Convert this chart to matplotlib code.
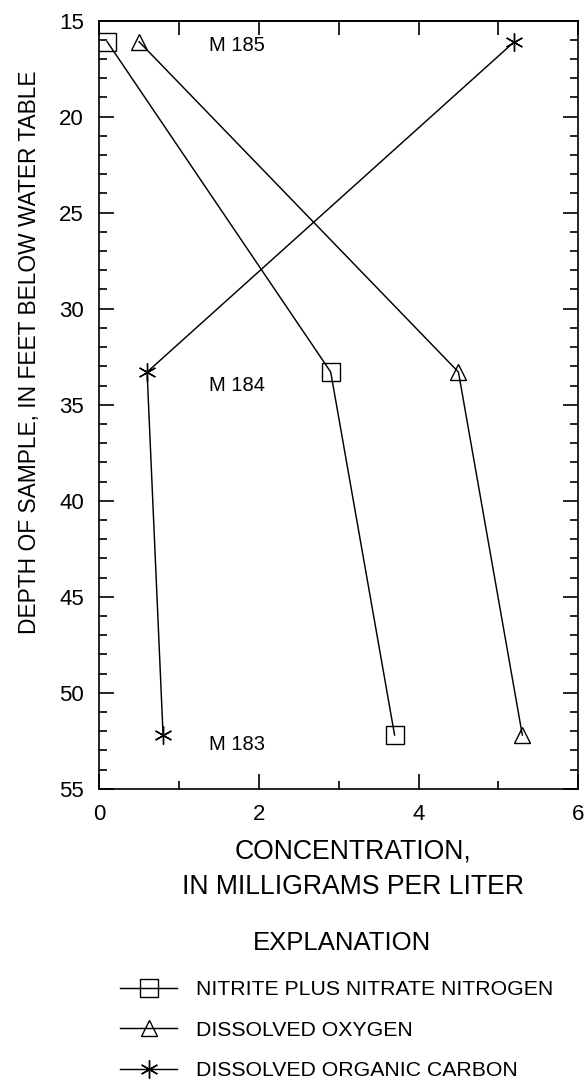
import matplotlib
matplotlib.use('Agg')
import matplotlib.pyplot as plt
from matplotlib.lines import Line2D

plt.rcParams.update({'font.family': ['Liberation Sans', 'DejaVu Sans'],
                     'font.size': 15, 'axes.linewidth': 1.2,
                     'xtick.direction': 'in', 'ytick.direction': 'in'})

# depths of the three wells (feet below water table)
depth = [16.1, 33.3, 52.2]
wells = ['M 185', 'M 184', 'M 183']
well_label_depth = [16.3, 34.0, 52.7]

nitrate = [0.1, 2.9, 3.7]
oxygen = [0.5, 4.5, 5.3]
carbon = [5.2, 0.6, 0.8]

series = [
    ('NITRITE PLUS NITRATE NITROGEN', nitrate, 's', 13),
    ('DISSOLVED OXYGEN', oxygen, '^', 12),
    ('DISSOLVED ORGANIC CARBON', carbon, (6, 2, 0), 13),
]

fig = plt.figure(figsize=(5.87, 10.85), dpi=100)
ax = fig.add_axes([0.169, 0.273, 0.816, 0.708])

handles = []
for name, vals, mk, ms in series:
    ax.plot(vals, depth, color='black', lw=1.05, marker=mk, ms=ms,
            mfc='none', mec='black', mew=1.0)
    handles.append(Line2D([], [], color='black', lw=1.05, marker=mk, ms=ms,
                          mfc='none', mec='black', mew=1.0, label=name))

for lab, d in zip(wells, well_label_depth):
    ax.text(1.37, d, lab, fontsize=14.5, va='center', ha='left')

ax.set_xlim(0, 6)
ax.set_ylim(55, 15)
ax.set_xticks([0, 2, 4, 6])
ax.set_xticks([1, 3, 5], minor=True)
ax.set_yticks(range(15, 56, 5))
ax.set_yticks(range(15, 56, 1), minor=True)
ax.tick_params(which='both', top=False, right=True, labelsize=16, width=1.2)
ax.tick_params(which='major', length=11, pad=11)
ax.tick_params(which='minor', length=6)

top = ax.secondary_xaxis('top')
top.set_xticks(range(0, 7))
top.tick_params(direction='in', length=10, width=1.2, labeltop=False)

fig.text(30 / 587, 1 - 352 / 1085, 'DEPTH OF SAMPLE, IN FEET BELOW WATER TABLE',
         rotation=90, ha='center', va='center', fontsize=16.4)
fig.text(353 / 587, 1 - 869 / 1085, 'CONCENTRATION,\nIN MILLIGRAMS PER LITER',
         ha='center', va='center', fontsize=19.2, linespacing=1.5)
fig.text(342 / 587, 1 - 943 / 1085, 'EXPLANATION', ha='center', va='center',
         fontsize=18.5)

fig.legend(handles=handles, loc='upper left',
           bbox_to_anchor=(120 / 587, 1 - 980 / 1085), frameon=False,
           fontsize=15.3, handlelength=2.7, handletextpad=0.9,
           labelspacing=1.02, borderaxespad=0, borderpad=0)

fig.savefig('out.png', dpi=100)
